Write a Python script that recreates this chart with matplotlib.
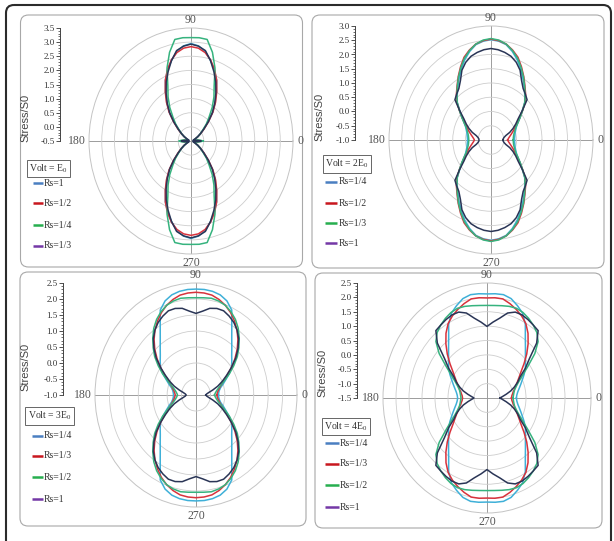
import numpy as np
import matplotlib
matplotlib.use("Agg")
import matplotlib.pyplot as plt
from matplotlib.patches import FancyBboxPatch
from matplotlib.ticker import MultipleLocator, FormatStrFormatter

plt.rcParams['font.family'] = ['Liberation Serif', 'DejaVu Serif']
plt.rcParams['mathtext.fontset'] = 'custom'
plt.rcParams['mathtext.rm'] = 'Liberation Serif'
plt.rcParams['axes.unicode_minus'] = False

# ---------------- data (first quadrant, degrees; curves are mirror-symmetric) -------------
theta_deg = [0, 5, 10, 15, 20, 25, 30, 35, 40, 45, 50, 55, 60, 65, 70, 75, 80, 85, 90]

# Panel 1 : Volt = E0
p1_labels = ['Rs=1', 'Rs=1/2', 'Rs=1/4', 'Rs=1/3']
p1_rs_1   = [-0.10, -0.22, -0.36, -0.41, -0.39, -0.31, -0.19, -0.03, 0.16, 0.46, 0.82, 1.15, 1.50, 1.88, 2.18, 2.45, 2.72, 2.88, 2.95]
p1_rs_1_2 = [-0.08, -0.20, -0.35, -0.40, -0.38, -0.30, -0.18, -0.02, 0.18, 0.47, 0.84, 1.18, 1.52, 1.88, 2.20, 2.47, 2.68, 2.80, 2.84]
p1_rs_1_4 = [-0.02, -0.15, -0.30, -0.38, -0.38, -0.30, -0.18, -0.05, 0.10, 0.35, 0.60, 0.95, 1.30, 1.65, 2.25, 2.75, 3.15, 3.17, 3.16]
p1_rs_1_3 = [-0.12, -0.25, -0.38, -0.42, -0.40, -0.32, -0.20, -0.05, 0.15, 0.45, 0.80, 1.12, 1.45, 1.80, 2.12, 2.45, 2.75, 2.87, 2.93]

# Panel 2 : Volt = 2E0
p2_labels = ['Rs=1/4', 'Rs=1/2', 'Rs=1/3', 'Rs=1']
p2_rs_1_4 = [-0.08, -0.07, -0.05, -0.02, 0.03, 0.10, 0.22, 0.40, 0.60, 0.87, 1.06, 1.27, 1.50, 1.75, 2.00, 2.22, 2.40, 2.48, 2.52]
p2_rs_1_2 = [-0.35, -0.31, -0.25, -0.17, -0.07, 0.04, 0.20, 0.39, 0.62, 0.90, 1.11, 1.32, 1.57, 1.83, 2.09, 2.27, 2.42, 2.50, 2.54]
p2_rs_1_3 = [-0.13, -0.12, -0.10, -0.06, 0.00, 0.08, 0.22, 0.40, 0.62, 0.88, 1.08, 1.30, 1.55, 1.80, 2.05, 2.25, 2.42, 2.52, 2.56]
p2_rs_1   = [-0.53, -0.52, -0.48, -0.40, -0.22, -0.05, 0.12, 0.30, 0.60, 1.00, 1.10, 1.20, 1.40, 1.70, 1.90, 2.04, 2.12, 2.18, 2.21]

# Panel 3 : Volt = 3E0
p3_labels = ['Rs=1/4', 'Rs=1/3', 'Rs=1/2', 'Rs=1']
p3_rs_1_4 = [-0.22, -0.21, -0.18, -0.12, 0.00, 0.14, 0.33, 0.50, 0.62, 0.75, 0.93, 1.16, 1.48, 1.93, 2.13, 2.24, 2.29, 2.31, 2.31]
p3_rs_1_3 = [-0.28, -0.26, -0.22, -0.16, -0.07, 0.07, 0.26, 0.50, 0.76, 1.02, 1.26, 1.48, 1.67, 1.84, 1.98, 2.09, 2.17, 2.20, 2.21]
p3_rs_1_2 = [-0.36, -0.33, -0.28, -0.20, -0.08, 0.10, 0.34, 0.60, 0.87, 1.10, 1.33, 1.55, 1.73, 1.87, 1.98, 2.04, 2.07, 2.05, 2.04]
p3_rs_1   = [-0.66, -0.63, -0.55, -0.40, -0.20, 0.00, 0.22, 0.50, 0.80, 1.06, 1.30, 1.48, 1.62, 1.72, 1.80, 1.80, 1.75, 1.63, 1.55]

# Panel 4 : Volt = 4E0
p4_labels = ['Rs=1/4', 'Rs=1/3', 'Rs=1/2', 'Rs=1']
p4_rs_1_4 = [-0.37, -0.35, -0.30, -0.22, -0.12, 0.00, 0.15, 0.30, 0.43, 0.59, 0.80, 1.07, 1.45, 1.75, 1.92, 2.08, 2.15, 2.14, 2.12]
p4_rs_1_3 = [-0.56, -0.54, -0.49, -0.42, -0.33, -0.22, -0.08, 0.10, 0.36, 0.66, 0.96, 1.25, 1.49, 1.65, 1.78, 1.90, 2.00, 2.00, 1.98]
p4_rs_1_2 = [-0.50, -0.48, -0.45, -0.40, -0.30, -0.15, 0.08, 0.42, 0.90, 1.28, 1.48, 1.60, 1.70, 1.78, 1.82, 1.80, 1.76, 1.73, 1.72]
p4_rs_1   = [-1.00, -0.90, -0.75, -0.56, -0.38, -0.20, -0.03, 0.30, 0.63, 1.20, 1.56, 1.60, 1.65, 1.69, 1.68, 1.56, 1.32, 1.15, 0.99]

volt_labels = ['Volt = E$_{\\rm 0}$', 'Volt = 2E$_{\\rm 0}$', 'Volt = 3E$_{\\rm 0}$', 'Volt = 4E$_{\\rm 0}$']
angle_labels = ['0', '90', '180', '270']
r_limits = [(-0.5, 3.5), (-1.0, 3.0), (-1.0, 2.5), (-1.5, 2.5)]

# ---------------- styling ----------------
curve_colors = ['#3fb0d8', '#d8323c', '#36b37e', '#2a3556']
legend_colors = ['#4a7fc1', '#c8171e', '#27ae4f', '#7438a6']

W, H = 614, 541
fig = plt.figure(figsize=(W / 100, H / 100), dpi=100)
fig.patch.set_facecolor('white')

ov = fig.add_axes([0, 0, 1, 1], zorder=5)
ov.set_xlim(0, W)
ov.set_ylim(H, 0)
ov.axis('off')
ov.patch.set_visible(False)


def full(q_theta, q_r):
    t = np.asarray(q_theta, float)
    r = np.asarray(q_r, float)
    T = np.concatenate([t, 180 - t[::-1][1:], 180 + t[1:], 360 - t[::-1][1:]])
    R = np.concatenate([r, r[::-1][1:], r[1:], r[::-1][1:]])
    return np.deg2rad(T), R


# panel layout (pixels)
panels = [
    dict(cx=191, cy=141, rx=102, ry=113, spx=60, lab=(25, 118), box=(20.5, 15, 302.5, 267),
         vbox=(48.5, 168.5), rows=[183, 203, 225, 246], lx=(33, 43), tx=44),
    dict(cx=491, cy=140, rx=102, ry=114, spx=355, lab=(319, 117), box=(312, 15, 604, 268),
         vbox=(347, 164), rows=[182, 203, 223, 243], lx=(325, 337), tx=339),
    dict(cx=196, cy=395, rx=101, ry=112, spx=63, lab=(25, 367), box=(20, 272, 306, 526),
         vbox=(49.5, 416), rows=[436, 456, 477, 499], lx=(32, 43), tx=44),
    dict(cx=487, cy=398, rx=104, ry=115, spx=357, lab=(322, 373), box=(315, 273, 602, 528),
         vbox=(346, 426.5), rows=[443, 464, 485, 507], lx=(325, 339), tx=340),
]
series_sets = [
    (p1_labels, [p1_rs_1, p1_rs_1_2, p1_rs_1_4, p1_rs_1_3]),
    (p2_labels, [p2_rs_1_4, p2_rs_1_2, p2_rs_1_3, p2_rs_1]),
    (p3_labels, [p3_rs_1_4, p3_rs_1_3, p3_rs_1_2, p3_rs_1]),
    (p4_labels, [p4_rs_1_4, p4_rs_1_3, p4_rs_1_2, p4_rs_1]),
]

# outer frame
ov.add_patch(FancyBboxPatch((6, 5), 605, 560, boxstyle='round,pad=0,rounding_size=8',
                            fc='none', ec='#2b2b2b', lw=1.5))

for k, (P, (labels, series)) in enumerate(zip(panels, series_sets)):
    rmin, rmax = r_limits[k]
    cx, cy, rx, ry = P['cx'], P['cy'], P['rx'], P['ry']
    x0, y0, x1, y1 = P['box']
    ov.add_patch(FancyBboxPatch((x0, y0), x1 - x0, y1 - y0,
                                boxstyle='round,pad=0,rounding_size=8',
                                fc='none', ec='#a8a8a8', lw=0.8))

    ax = fig.add_axes([(cx - rx) / W, 1 - (cy + ry) / H, 2 * rx / W, 2 * ry / H],
                      projection='polar', zorder=2)
    ax.set_aspect('auto')
    ax.patch.set_visible(False)
    for r, c in zip(series, curve_colors):
        T, R = full(theta_deg, r)
        ax.plot(T, R, color=c, lw=1.1)
    ax.set_ylim(rmin, rmax)
    ax.set_yticks(np.arange(rmin + 0.5, rmax - 0.25, 0.5))
    ax.set_yticklabels([])
    ax.set_xticks(np.deg2rad([0, 90, 180, 270]))
    ax.set_xticklabels([])
    ax.tick_params(length=0)
    ax.xaxis.grid(True, color='#9c9c9c', lw=0.7)
    ax.yaxis.grid(True, color='#cdcdcd', lw=0.6)
    ax.spines['polar'].set_color('#c4c4c4')
    ax.spines['polar'].set_linewidth(0.7)

    # angle labels
    fs = 8.5
    ov.text(cx + rx + 4, cy, angle_labels[0], ha='left', va='center', fontsize=fs, color='#555555')
    ov.text(cx, cy - ry - 8, angle_labels[1], ha='center', va='center', fontsize=fs, color='#555555')
    ov.text(cx - rx - 3, cy, angle_labels[2], ha='right', va='center', fontsize=fs, color='#555555')
    ov.text(cx, cy + ry + 9, angle_labels[3], ha='center', va='center', fontsize=fs, color='#555555')

    # radial scale axis
    sa = fig.add_axes([P['spx'] / W, 1 - cy / H, 0.002, ry / H], zorder=2)
    sa.set_ylim(rmin, rmax)
    for s in ['top', 'right', 'bottom']:
        sa.spines[s].set_visible(False)
    sa.spines['left'].set_color('#444444')
    sa.spines['left'].set_linewidth(0.7)
    sa.set_xticks([])
    sa.yaxis.set_major_locator(MultipleLocator(0.5))
    sa.yaxis.set_minor_locator(MultipleLocator(0.1))
    sa.yaxis.set_major_formatter(FormatStrFormatter('%.1f'))
    sa.tick_params(axis='y', which='major', length=3, width=0.6, labelsize=6.5, pad=1,
                   colors='#333333')
    sa.tick_params(axis='y', which='minor', length=1.5, width=0.5, colors='#333333')
    sa.patch.set_visible(False)
    ov.text(P['lab'][0], P['lab'][1], 'Stress/S0', rotation=90, ha='center', va='center',
            fontsize=8, family='Liberation Sans', color='#444444')

    # legend
    ov.text(P['vbox'][0], P['vbox'][1], volt_labels[k], ha='center', va='center', fontsize=7,
            color='#333333',
            bbox=dict(boxstyle='square,pad=0.25', fc='white', ec='#666666', lw=0.7))
    for lab, yrow, lc in zip(labels, P['rows'], legend_colors):
        ov.plot(P['lx'], [yrow, yrow], color=lc, lw=1.8, solid_capstyle='butt')
        ov.text(P['tx'], yrow, lab, ha='left', va='center', fontsize=7, color='#333333')

fig.savefig('out.png', dpi=100, facecolor='white')
